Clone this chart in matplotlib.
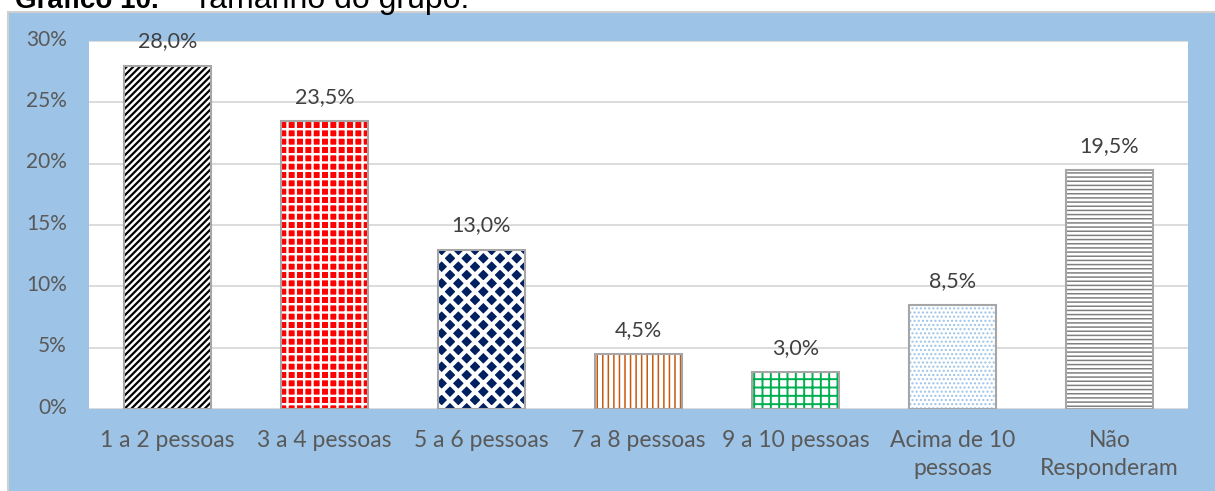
import matplotlib
matplotlib.use("Agg")
import matplotlib.pyplot as plt
from matplotlib.patches import Rectangle
from matplotlib.ticker import FuncFormatter, MultipleLocator
from matplotlib.transforms import ScaledTranslation

categories = ["1 a 2 pessoas", "3 a 4 pessoas", "5 a 6 pessoas", "7 a 8 pessoas",
              "9 a 10 pessoas", "Acima de 10\npessoas", "Não\nResponderam"]
values = [28.0, 23.5, 13.0, 4.5, 3.0, 8.5, 19.5]
labels = ["28,0%", "23,5%", "13,0%", "4,5%", "3,0%", "8,5%", "19,5%"]

# fill, hatch colour, hatch, hatch linewidth
styles = [
    ("white", "black", "/////", 1.6),
    ("#FF0000", "white", "++", 1.7),
    ("#002060", "white", "xx", 3.0),
    ("white", "#C55A11", "|||", 1.1),
    ("white", "#00B050", "++", 1.4),
    ("white", "#9DC3E6", "....", 1.0),
    ("white", "#808080", "----", 1.1),
]

plt.rcParams["font.family"] = ["Lato", "DejaVu Sans"]

fig = plt.figure(figsize=(12.15, 4.91), dpi=100)
W, H = 1215, 491

# blue chart frame
frame = Rectangle((8 / W, -0.01), 1.0, (491 - 12) / H + 0.01, transform=fig.transFigure,
                  facecolor="#9DC3E6", edgecolor="#D0D0D0", linewidth=1.5, zorder=-5)
fig.add_artist(frame)

# title, cut at the top like in the source document
fig.text(15 / W, 1 - 8 / H, "Gráfico 10.", family="Liberation Sans", weight="bold",
         fontsize=20, va="baseline", ha="left")
fig.text(193 / W, 1 - 8 / H, "Tamanho do grupo.", family="Liberation Sans",
         fontsize=23, va="baseline", ha="left")

ax = fig.add_axes([89 / W, (H - 409) / H, (1188 - 89) / W, (409 - 41) / H])
ax.set_facecolor("white")

x = range(len(categories))
bars = ax.bar(x, values, width=0.56, linewidth=0, zorder=2)
for bar, (fc, hc, hatch, hlw) in zip(bars, styles):
    bar.set_facecolor(fc)
    bar.set_edgecolor(hc)
    bar.set_hatch(hatch)
    if hasattr(bar, "set_hatch_linewidth"):
        bar.set_hatch_linewidth(hlw)
ax.bar(x, values, width=0.56, fill=False, edgecolor="#A6A6A6", linewidth=1.5, zorder=3)

for xi, v, lab in zip(x, values, labels):
    ax.annotate(lab, (xi, v), xytext=(0, 13), textcoords="offset points",
                ha="center", va="baseline", fontsize=15.5, color="#404040")

ax.set_xlim(-0.5, len(categories) - 0.5)
ax.set_ylim(0, 30)
ax.yaxis.set_major_locator(MultipleLocator(5))
ax.yaxis.set_major_formatter(FuncFormatter(lambda v, p: f"{v:.0f}%"))
ax.grid(axis="y", color="#D9D9D9", linewidth=1.3, zorder=0)
ax.set_axisbelow(True)
for s in ax.spines.values():
    s.set_visible(False)
ax.tick_params(axis="both", length=0, labelcolor="#595959")
ax.tick_params(axis="y", pad=16, labelsize=15)
ax.tick_params(axis="x", pad=15, labelsize=16.5)
ax.set_xticks(list(x))
ax.set_xticklabels(categories, linespacing=1.4)

# y labels sit a little above their gridlines
up = ScaledTranslation(0, 2.5 / 72, fig.dpi_scale_trans)
for t in ax.get_yticklabels():
    t.set_transform(t.get_transform() + up)

fig.savefig("out.png", dpi=100)
